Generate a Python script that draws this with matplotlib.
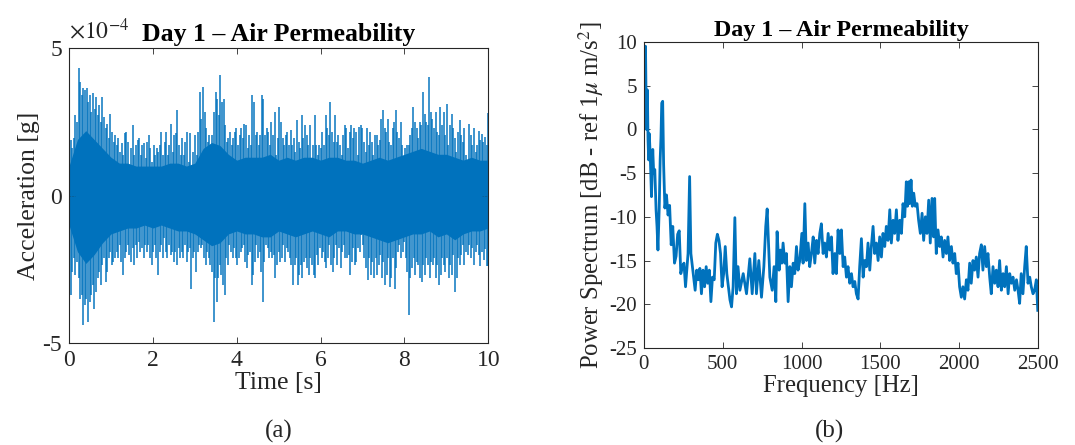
import numpy as np
import matplotlib
matplotlib.use("Agg")
import matplotlib.pyplot as plt

# ---- panel (a): acceleration record, values in units of 1e-4 g ----
# solid band in the middle of the record, every 0.2 s
t_core = np.arange(0, 10.01, 0.2)
core_hi = [1.0, 1.9, 2.2, 1.9, 1.6, 1.3, 1.1, 1.1, 1.0, 1.0, 1.0, 1.0, 1.1, 1.1, 1.0, 1.1,
           1.6, 1.8, 1.7, 1.4, 1.2, 1.3, 1.3, 1.3, 1.4, 1.2, 1.3, 1.2, 1.3, 1.3, 1.2, 1.3,
           1.3, 1.2, 1.2, 1.1, 1.2, 1.3, 1.2, 1.3, 1.4, 1.5, 1.6, 1.5, 1.4, 1.4, 1.3, 1.2,
           1.3, 1.2, 1.2]
core_lo = [-1.0, -1.9, -2.3, -2.0, -1.6, -1.3, -1.2, -1.1, -1.1, -1.0, -1.1, -1.0, -1.1, -1.2,
           -1.2, -1.3, -1.5, -1.7, -1.6, -1.3, -1.2, -1.3, -1.3, -1.4, -1.4, -1.2, -1.3, -1.4,
           -1.3, -1.2, -1.3, -1.4, -1.2, -1.2, -1.3, -1.3, -1.4, -1.5, -1.6, -1.5, -1.4, -1.3,
           -1.3, -1.2, -1.4, -1.3, -1.5, -1.3, -1.2, -1.2, -1.1]

# peak heights of the positive / negative excursions, left to right over 0-10 s
peaks_up = [1.37, 1.88, 1.60, 1.94, 2.73, 2.50, 4.31, 3.86, 3.41, 3.63, 3.57, 3.63, 3.18, 3.41,
            2.84, 3.46, 2.95, 3.35, 2.73, 3.07, 2.50, 3.35, 2.67, 2.28, 2.44, 1.94, 2.78, 2.16,
            1.82, 2.05, 1.71, 1.94, 1.48, 1.77, 1.37, 2.11, 2.16, 1.82, 0.81, 1.60, 2.39, 1.37,
            1.71, 1.88, 1.94, 1.37, 1.71, 1.77, 1.26, 1.82, 2.05, 1.60, 1.15, 1.71, 1.37, 1.60,
            1.48, 1.71, 2.16, 1.37, 1.82, 2.16, 1.37, 1.71, 2.44, 1.48, 2.05, 2.11, 2.90, 1.71,
            1.37, 1.94, 1.37, 1.82, 2.16, 1.15, 2.11, 0.58, 1.48, 2.05, 1.37, 2.16, 3.52, 2.61,
            3.69, 2.84, 2.28, 1.82, 2.05, 1.60, 2.05, 2.84, 3.52, 3.29, 2.73, 4.08, 3.18, 3.29,
            2.39, 1.82, 1.94, 2.16, 1.71, 1.94, 2.16, 2.28, 1.71, 2.05, 2.28, 1.94, 2.44, 2.39,
            1.60, 2.05, 1.71, 3.41, 3.18, 2.05, 2.16, 1.71, 2.05, 3.41, 3.29, 2.05, 2.28, 2.16,
            1.71, 2.50, 2.05, 2.84, 1.37, 1.94, 3.01, 2.50, 1.94, 1.71, 2.05, 2.16, 1.71, 2.22,
            1.71, 1.94, 1.48, 2.56, 1.82, 1.60, 2.73, 1.94, 2.39, 2.05, 1.71, 2.39, 1.15, 1.71,
            2.73, 1.71, 1.37, 1.71, 1.60, 2.16, 1.71, 2.73, 2.28, 2.05, 3.18, 2.16, 1.82, 2.73,
            1.82, 2.05, 1.71, 1.37, 2.05, 2.39, 2.28, 1.60, 2.16, 2.39, 1.94, 2.28, 2.16, 1.37,
            2.33, 2.39, 2.28, 1.82, 1.48, 2.28, 1.71, 2.16, 1.82, 1.37, 2.05, 2.05, 1.71, 1.88,
            2.61, 2.90, 2.28, 2.16, 2.61, 1.82, 1.71, 2.28, 2.50, 2.90, 2.16, 1.94, 2.50, 1.71,
            1.15, 1.60, 1.71, 1.71, 2.05, 2.28, 3.01, 2.50, 2.28, 1.94, 2.50, 2.39, 3.52, 2.78,
            2.50, 2.39, 4.03, 2.84, 2.61, 2.28, 2.84, 2.16, 2.05, 3.01, 2.39, 2.84, 2.05, 3.12,
            1.71, 2.39, 2.78, 2.28, 1.94, 1.48, 2.16, 2.56, 2.05, 1.82, 2.28, 1.37, 0.81, 2.44,
            2.05, 1.71, 2.28, 1.48, 1.71, 2.2, 1.9, 2.1, 1.8, 2.0, 1.7, 2.8]
peaks_dn = [-3.49, -3.37, -2.58, -2.13, -2.70, -2.24, -2.81, -3.49, -3.37, -4.39, -3.71, -3.49,
            -4.28, -3.60, -3.37, -3.04, -3.83, -3.26, -2.81, -2.58, -3.04, -2.36, -2.13, -2.92,
            -2.58, -2.13, -1.91, -2.36, -2.24, -2.13, -1.91, -2.13, -1.68, -2.24, -2.70, -2.13,
            -1.91, -1.68, -2.02, -2.24, -1.79, -2.36, -1.68, -2.13, -1.57, -1.91, -1.79, -2.13,
            -1.68, -1.91, -1.68, -2.13, -2.36, -1.91, -1.68, -2.13, -2.70, -1.91, -1.68, -2.13,
            -1.45, -1.91, -2.13, -1.68, -2.02, -1.91, -2.24, -1.91, -2.36, -1.79, -2.13, -1.91,
            -2.13, -1.68, -2.24, -1.91, -1.79, -3.15, -2.13, -1.91, -2.58, -1.91, -1.68, -1.79,
            -1.68, -2.13, -2.36, -1.91, -2.13, -2.36, -2.58, -4.28, -2.81, -3.60, -2.81, -2.36,
            -2.70, -3.04, -3.37, -2.13, -2.36, -1.68, -1.91, -2.13, -1.79, -2.13, -2.36, -2.13,
            -1.91, -1.79, -1.68, -2.24, -2.47, -2.02, -1.91, -3.04, -2.70, -2.24, -1.68, -2.13,
            -1.91, -2.58, -3.60, -2.24, -1.68, -1.79, -2.13, -1.91, -2.13, -2.02, -2.81, -2.36,
            -1.91, -2.24, -2.13, -1.68, -2.24, -1.79, -1.91, -2.13, -2.36, -3.04, -2.36, -2.13,
            -3.04, -2.70, -2.36, -2.81, -2.24, -2.13, -2.47, -2.70, -2.13, -2.36, -2.70, -2.81,
            -2.02, -2.36, -1.79, -2.13, -1.91, -2.24, -2.47, -2.13, -1.68, -2.36, -2.58, -2.13,
            -1.68, -2.36, -1.79, -2.47, -1.91, -1.68, -2.13, -2.13, -2.02, -2.70, -2.24, -1.79,
            -2.36, -2.24, -1.79, -1.91, -1.34, -1.68, -2.13, -2.47, -2.87, -2.13, -2.70, -2.24,
            -2.81, -2.13, -2.70, -2.36, -2.02, -2.81, -2.24, -3.04, -2.70, -2.13, -3.09, -2.81,
            -2.13, -3.15, -2.47, -1.91, -1.68, -2.13, -1.91, -1.57, -2.13, -2.58, -4.05, -2.81,
            -2.47, -2.13, -2.70, -2.24, -2.36, -2.81, -2.92, -2.36, -2.70, -2.13, -2.36, -2.81,
            -2.24, -2.36, -2.13, -2.81, -2.36, -3.04, -2.70, -2.13, -2.36, -2.58, -2.13, -2.81,
            -2.36, -2.70, -2.02, -3.26, -2.81, -2.13, -2.36, -2.02, -1.68, -2.36, -1.91, -2.02,
            -1.68, -2.13, -1.79, -2.36, -1.91, -1.68, -2.0, -2.4, -1.9, -2.2, -1.8, -2.4, -2.4]
t_up = np.linspace(0, 10, len(peaks_up))
t_dn = np.linspace(0, 10, len(peaks_dn))

# ---- panel (b): power spectrum ----
freq = [0, 5, 10, 14, 18, 22, 26, 30, 34, 40, 48, 56, 62, 69, 77, 83, 89, 97, 103, 108,
        113, 119, 125, 133, 143, 153, 163, 173, 183, 194, 204, 214, 224, 234, 244, 254, 264,
        274, 280, 290, 298, 310, 325, 335, 345, 355, 365, 375, 385, 395, 405, 415, 425, 435,
        446, 456, 466, 476, 486, 496, 506, 516, 526, 536, 546, 556, 566, 577, 587, 597,
        609, 630, 651, 672, 687, 704, 714, 729, 746, 761, 773, 782, 790, 799, 814, 826, 837,
        845, 858, 866, 875, 883, 894, 904, 915, 926, 936, 947, 957, 968, 978, 989, 1002,
        1010, 1021, 1031, 1042, 1052, 1063, 1074, 1084, 1095, 1105, 1116, 1126, 1137, 1147,
        1158, 1169, 1179, 1190, 1200, 1211, 1221, 1232, 1243, 1253, 1264, 1274, 1285, 1295,
        1306, 1317, 1327, 1338, 1348, 1359, 1369, 1380, 1391, 1401, 1412, 1422, 1433, 1443,
        1454, 1464, 1475, 1486, 1496, 1507, 1517, 1528, 1538, 1549, 1560, 1570, 1581, 1591,
        1602, 1612, 1623, 1634, 1644, 1655, 1665, 1672, 1680, 1686, 1695, 1703, 1712, 1722,
        1733, 1743, 1754, 1765, 1775, 1786, 1796, 1807, 1817, 1828, 1838, 1845, 1855, 1866,
        1877, 1887, 1898, 1908, 1919, 1929, 1940, 1951, 1961, 1972, 1982, 1993, 2003, 2014,
        2024, 2035, 2046, 2056, 2067, 2077, 2088, 2098, 2109, 2120, 2130, 2141, 2151, 2162,
        2173, 2183, 2194, 2204, 2215, 2226, 2236, 2247, 2257, 2268, 2279, 2289, 2300, 2311,
        2321, 2332, 2342, 2353, 2364, 2374, 2384, 2394, 2405, 2416, 2426, 2437, 2448, 2458,
        2469, 2479, 2490, 2499]
psd_db = [0, 1, 9.5, 3, 0, 4.5, -1.2, -3.5, -0.5, -3, -7.7, -2.3, -5, -4.6, -9.2, -11.1, -13.8,
          -9, -3.5, -1, 3.0, 3.2, -4, -9, -7.5, -9.8, -8.7, -13.2, -11.1, -15.3, -14.5, -12,
          -11.6, -16.5, -15.7, -15.3, -18, -15.7, -14.2, -5.4, -14.2, -16.1, -18.4, -16.1, -17.2,
          -15.9, -18.8, -16.1, -18, -15.7, -17.6, -16.1, -19.7, -16.9, -17.2, -13, -12, -12.7,
          -14.2, -18, -16.5, -13.4, -16.5, -18, -19.5, -20.3, -18, -10.1, -18.8, -15.7,
          -18.4, -16.5, -18.8, -14.8, -18.8, -14.2, -18.8, -15, -19.2, -15.7, -11.1, -9.1, -12.7,
          -16.9, -18.4, -15.7, -19.7, -11.7, -16.1, -13.8, -15.3, -13.0, -15.3, -14.2, -19.7,
          -15.7, -18.0, -15.3, -16.5, -13.4, -16.1, -15, -11.9, -15.3, -8.5, -15, -13, -15.7,
          -14.2, -12.3, -15.3, -12.7, -14.2, -11.9, -10.8, -14.2, -13, -14.6, -11.9, -13.8,
          -12.3, -16.5, -14.2, -16.5, -11.5, -14.2, -11.5, -15.7, -14.6, -16.9, -15.7, -17.6,
          -16.5, -18, -17.4, -18.8, -19.4, -15.7, -12.5, -16.9, -15, -15.7, -13, -16.1, -13.4,
          -11.1, -14.2, -13, -15, -12.3, -14.6, -11.9, -13.4, -11.1, -12.7, -9.2, -13, -10.4,
          -11.9, -9.2, -12.7, -10.4, -11.9, -8.5, -10, -6, -8.8, -6, -8.5, -5.8, -8.8, -7.3,
          -8.8, -8.5, -10.4, -11.9, -9.6, -12.7, -10, -11.9, -8.1, -13, -7.9, -12.3, -7.9,
          -14.2, -11.5, -13.4, -12.3, -14.6, -12.7, -14.2, -12.3, -15, -13.4, -15.3, -14.2,
          -16.5, -15.3, -18, -19.2, -18, -19.4, -17.2, -18.4, -15.3, -17.6, -15, -16.1, -14.6,
          -16.9, -14.2, -13.2, -16.1, -13.4, -15.7, -14.2, -16.9, -18.8, -15.7, -17.6, -16.1,
          -18, -15, -18.4, -16.5, -18, -15.7, -18.8, -16.5, -17.6, -16.9, -18.4, -17.2, -18.4,
          -19.9, -16.5, -18.8, -15.7, -13.4, -17.6, -16.9, -18, -18.8, -18.4, -17.2, -20.7]

blue = "#0072BD"
txt = "#262626"
plt.rcParams["font.family"] = ["Liberation Serif", "DejaVu Serif"]
plt.rcParams["mathtext.fontset"] = "stix"
plt.rcParams["axes.unicode_minus"] = False

fig = plt.figure(figsize=(10.75, 4.45), dpi=100)

def style(ax, fs):
    for s in ax.spines.values():
        s.set_color(txt)
        s.set_linewidth(0.8)
    ax.tick_params(direction="in", top=True, right=True, length=4, width=0.6,
                   colors=txt, labelsize=fs, pad=5)

# (a)
ax1 = fig.add_axes([0.0642, 0.229, 0.390, 0.663])
ax1.vlines(t_up, 0, peaks_up, color=blue, lw=1.25, alpha=0.85)
ax1.vlines(t_dn, 0, peaks_dn, color=blue, lw=1.25, alpha=0.85)
ax1.fill_between(t_core, core_lo, core_hi, color=blue, lw=0)
ax1.set_xlim(0, 10)
ax1.set_ylim(-5, 5)
ax1.set_xticks(range(0, 11, 2))
ax1.set_yticks([-5, 0, 5])
style(ax1, 17)
ax1.set_xlabel("Time [s]", fontsize=18.5, color=txt, labelpad=1)
ax1.set_ylabel("Acceleration [g]", fontsize=18.5, color=txt, labelpad=2)
ax1.set_title("Day 1 – Air Permeability", fontsize=18.5, fontweight="bold", pad=5)
ax1.text(0.0, 1.015, r"$\times10^{-4}$", transform=ax1.transAxes, fontsize=17,
         color=txt, ha="left", va="bottom")

# (b)
ax2 = fig.add_axes([0.599, 0.218, 0.3665, 0.688])
ax2.plot(freq, psd_db, color=blue, lw=2.0)
ax2.set_xlim(0, 2500)
ax2.set_ylim(-25, 10)
ax2.set_xticks(range(0, 2501, 500))
ax2.set_yticks(range(-25, 11, 5))
style(ax2, 15)
ax2.set_xlabel("Frequency [Hz]", fontsize=17.8, color=txt, labelpad=1)
ax2.set_ylabel(r"Power Spectrum [dB - ref 1$\mu$ m/s$^2$]", fontsize=17.8, color=txt, labelpad=2)
ax2.set_title("Day 1 – Air Permeability", fontsize=17.3, fontweight="bold", pad=4)

fig.text(279 / 1075, 1 - 431 / 445, "(a)", fontsize=18, ha="center", va="center", color=txt)
fig.text(829 / 1075, 1 - 431 / 445, "(b)", fontsize=18, ha="center", va="center", color=txt)

fig.savefig("out.png", dpi=100)
